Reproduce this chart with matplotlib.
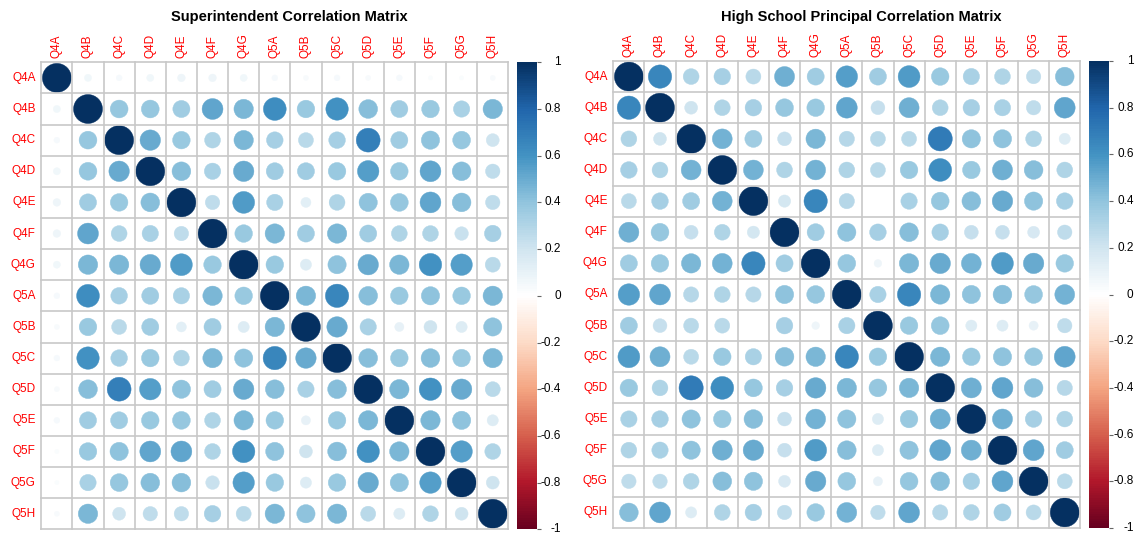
import numpy as np
import matplotlib
matplotlib.use('Agg')
import matplotlib.pyplot as plt
from matplotlib.patches import Circle
from matplotlib.colors import LinearSegmentedColormap, Normalize
from matplotlib.cm import ScalarMappable

plt.rcParams['font.family'] = ['Liberation Sans', 'DejaVu Sans']

labels = ['Q4A', 'Q4B', 'Q4C', 'Q4D', 'Q4E', 'Q4F', 'Q4G',
          'Q5A', 'Q5B', 'Q5C', 'Q5D', 'Q5E', 'Q5F', 'Q5G', 'Q5H']

# correlations right of the diagonal, one list per row
supt_upper = [
    [0.06, 0.04, 0.06, 0.07, 0.07, 0.06, 0.04, 0.03, 0.04, 0.03, 0.04, 0.02, 0.02, 0.03],
    [0.38, 0.38, 0.35, 0.52, 0.45, 0.62, 0.37, 0.60, 0.42, 0.35, 0.37, 0.32, 0.45],
    [0.50, 0.37, 0.30, 0.45, 0.33, 0.27, 0.33, 0.68, 0.35, 0.40, 0.38, 0.20],
    [0.42, 0.32, 0.50, 0.35, 0.35, 0.37, 0.55, 0.37, 0.52, 0.42, 0.25],
    [0.25, 0.57, 0.32, 0.12, 0.30, 0.40, 0.38, 0.52, 0.42, 0.25],
    [0.37, 0.45, 0.35, 0.45, 0.35, 0.30, 0.30, 0.22, 0.33],
    [0.37, 0.15, 0.40, 0.50, 0.45, 0.60, 0.55, 0.27],
    [0.45, 0.65, 0.42, 0.37, 0.40, 0.37, 0.45],
    [0.50, 0.32, 0.10, 0.20, 0.15, 0.40],
    [0.42, 0.37, 0.42, 0.37, 0.45],
    [0.45, 0.60, 0.50, 0.27],
    [0.45, 0.40, 0.15],
    [0.55, 0.30],
    [0.20],
]

princ_upper = [
    [0.65, 0.30, 0.33, 0.27, 0.48, 0.35, 0.55, 0.35, 0.57, 0.37, 0.32, 0.30, 0.25, 0.42],
    [0.20, 0.30, 0.33, 0.38, 0.37, 0.52, 0.23, 0.48, 0.30, 0.33, 0.32, 0.25, 0.52],
    [0.47, 0.35, 0.23, 0.45, 0.28, 0.27, 0.27, 0.70, 0.40, 0.40, 0.30, 0.15],
    [0.47, 0.30, 0.47, 0.30, 0.27, 0.37, 0.62, 0.37, 0.48, 0.42, 0.30],
    [0.18, 0.65, 0.28, 0.00, 0.32, 0.38, 0.42, 0.50, 0.40, 0.33],
    [0.35, 0.40, 0.33, 0.42, 0.33, 0.23, 0.23, 0.17, 0.25],
    [0.38, 0.07, 0.45, 0.50, 0.47, 0.57, 0.50, 0.37],
    [0.32, 0.65, 0.45, 0.40, 0.42, 0.38, 0.47],
    [0.37, 0.38, 0.15, 0.15, 0.10, 0.25],
    [0.45, 0.37, 0.40, 0.38, 0.52],
    [0.48, 0.52, 0.42, 0.28],
    [0.48, 0.33, 0.30],
    [0.52, 0.35],
    [0.27],
]

cbar_ticks = [-1, -0.8, -0.6, -0.4, -0.2, 0, 0.2, 0.4, 0.6, 0.8, 1]

corr_cmap = LinearSegmentedColormap.from_list(
    'corr', ['#67001F', '#B2182B', '#D6604D', '#F4A582', '#FDDBC7', '#FFFFFF',
             '#D1E5F0', '#92C5DE', '#4393C3', '#2166AC', '#053061'], N=200)
norm = Normalize(-1, 1)


def full_matrix(upper):
    n = len(upper) + 1
    m = np.eye(n)
    for i, row in enumerate(upper):
        for k, v in enumerate(row):
            j = i + 1 + k
            m[i, j] = v
            m[j, i] = v
    return m


W, H = 1138, 533


def box(x0, y0, w, h):
    # pixel box (top-left origin) -> figure fraction
    return [x0 / W, (H - y0 - h) / H, w / W, h / H]


def draw_panel(fig, gx, gy, gsize, cx, title, mat):
    n = mat.shape[0]
    ax = fig.add_axes(box(gx, gy, gsize, gsize))
    ax.set_xlim(0, n)
    ax.set_ylim(n, 0)
    ax.axis('off')

    for i in range(n):
        for j in range(n):
            v = mat[i, j]
            c = corr_cmap(norm(v))
            ax.add_patch(Circle((j + 0.5, i + 0.5), 0.465 * np.sqrt(abs(v)),
                                facecolor=c, edgecolor=c, lw=0.3))

    for k in range(n + 1):
        ax.plot([k, k], [0, n], color='#C8C8C8', lw=1.2, clip_on=False, zorder=3)
        ax.plot([0, n], [k, k], color='#C8C8C8', lw=1.2, clip_on=False, zorder=3)

    for k, lab in enumerate(labels):
        ax.text(k + 0.5, -0.13, lab, rotation=90, ha='center', va='bottom',
                color='red', fontsize=8.5)
        ax.text(-0.18, k + 0.5, lab, ha='right', va='center',
                color='red', fontsize=8.5)

    # colour legend
    cax = fig.add_axes(box(cx, gy, 20, gsize))
    cb = fig.colorbar(ScalarMappable(norm=norm, cmap=corr_cmap), cax=cax)
    cb.outline.set_visible(False)
    cb.set_ticks(cbar_ticks)
    cax.tick_params(axis='y', length=3, width=0.8, color='#666666',
                    labelright=False, right=True)
    for t in cbar_ticks:
        cax.annotate(f'{t:g}', xy=(1, t), xycoords=('axes fraction', 'data'),
                     xytext=(17.5, 0), textcoords='offset points',
                     ha='right', va='center', fontsize=8.5)

    fig.text((gx + cx + 20) / 2 / W, 1 - 17 / H, title, ha='center', va='center',
             fontsize=10.5, fontweight='bold')


fig = plt.figure(figsize=(W / 100, H / 100), dpi=100)

draw_panel(fig, 41.3, 62.3, 467, 516.7, 'Superintendent Correlation Matrix',
           full_matrix(supt_upper))
draw_panel(fig, 613.3, 61.0, 467, 1089.3, 'High School Principal Correlation Matrix',
           full_matrix(princ_upper))

fig.savefig('out.png', dpi=100)
